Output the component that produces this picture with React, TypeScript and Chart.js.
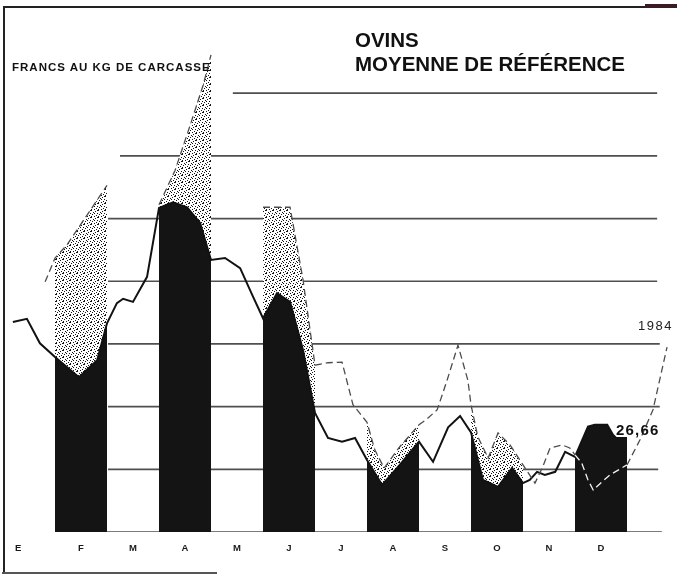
import React, { useEffect, useRef } from "react";
import { Chart, registerables } from "chart.js";

Chart.register(...registerables);

// Months (x axis, 1 unit = 1 month, January starts at 0)
const MONTH_LABELS = ["E", "F", "M", "A", "M", "J", "J", "A", "S", "O", "N", "D"];
const MONTH_TICKS = [0.29, 1.5, 2.5, 3.5, 4.5, 5.5, 6.5, 7.5, 8.5, 9.5, 10.5, 11.5];
const SHADED_MONTHS = [1, 3, 5, 7, 9, 11];

// Solid line (black areas are filled under it in the shaded months)
const SOLID_X = [
  0.19, 0.46, 0.71, 1.0, 1.46, 1.81, 2.0, 2.19, 2.31, 2.5, 2.77, 3.0, 3.27, 3.54, 3.79, 4.0,
  4.27, 4.56, 4.81, 5.0, 5.27, 5.52, 5.77, 6.0, 6.25, 6.52, 6.77, 7.0, 7.29, 7.63, 8.0, 8.27,
  8.56, 8.79, 9.0, 9.23, 9.52, 9.79, 10.0, 10.13, 10.27, 10.42, 10.62, 10.81, 11.0, 11.25,
  11.38, 11.62, 11.73, 11.79, 12.0,
];
const SOLID_Y = [
  28.35, 28.4, 28.01, 27.79, 27.47, 27.74, 28.33, 28.65, 28.72, 28.67, 29.07, 30.17, 30.26,
  30.18, 29.93, 29.34, 29.37, 29.21, 28.75, 28.41, 28.81, 28.67, 27.9, 26.9, 26.5, 26.44, 26.5,
  26.15, 25.75, 26.07, 26.44, 26.12, 26.67, 26.85, 26.59, 25.83, 25.72, 26.02, 25.78, 25.83,
  25.96, 25.91, 25.96, 26.28, 26.2, 26.68, 26.71, 26.71, 26.55, 26.5, 26.5,
];

// Dashed line, 1984 (null = not drawn in the original)
const DASHED_X = [
  0.81, 1.0, 1.23, 1.62, 2.0, 2.5, 3.0, 3.31, 3.6, 3.85, 4.0, 4.5, 5.0, 5.52, 5.77, 6.0, 6.25,
  6.52, 6.73, 7.0, 7.15, 7.33, 7.63, 8.0, 8.15, 8.35, 8.54, 8.75, 8.94, 9.0, 9.13, 9.33, 9.52,
  9.75, 10.0, 10.23, 10.38, 10.52, 10.75, 10.9, 11.0, 11.13, 11.25, 11.35, 11.52, 11.67, 12.0,
  12.25, 12.5, 12.77,
];
const DASHED_Y: (number | null)[] = [
  28.99, 29.37, 29.58, 30.06, 30.53, null, 30.22, 30.77, 31.49, 32.13, 32.61, null, 30.18, 30.18,
  29.02, 27.66, 27.7, 27.71, 27.03, 26.75, 26.31, 26.02, 26.36, 26.71, 26.8, 26.95, 27.42, 27.98,
  27.42, 27.03, 26.52, 26.18, 26.58, 26.39, 26.07, 25.78, 26.04, 26.34, 26.39, 26.34, 26.23,
  26.1, 25.83, 25.67, 25.8, 25.91, 26.07, 26.47, 26.95, 27.95,
];

// Horizontal rules
const GRID_VALUES = [25, 26, 27, 28, 29, 30, 31, 32];
const GRID_FROM = [1.0, 2.02, 2.02, 2.02, 2.02, 2.02, 2.25, 4.42];
const GRID_TO = [12.67, 12.6, 12.63, 12.63, 12.58, 12.58, 12.58, 12.58];

const X_MIN = 0;
const X_MAX = 12.8;
const Y_MIN = 25;
const Y_MAX = 32.8;

const SPECKS: [number, number][] = [
  [0, 0], [4, 1], [2, 2], [6, 3], [1, 4], [5, 5], [3, 6], [6, 0], [3, 3], [0, 6],
];

function solidAt(x: number): number | null {
  for (let i = 0; i < SOLID_X.length - 1; i++) {
    if (x >= SOLID_X[i] && x <= SOLID_X[i + 1]) {
      const t = (x - SOLID_X[i]) / (SOLID_X[i + 1] - SOLID_X[i]);
      return SOLID_Y[i] + t * (SOLID_Y[i + 1] - SOLID_Y[i]);
    }
  }
  return null;
}

export default function App() {
  const ref = useRef<HTMLCanvasElement>(null);

  useEffect(() => {
    const canvas = ref.current;
    if (!canvas) return;
    const tile = document.createElement("canvas");
    tile.width = 7;
    tile.height = 7;
    const tctx = tile.getContext("2d")!;
    tctx.fillStyle = "#ffffff";
    tctx.fillRect(0, 0, 7, 7);
    tctx.fillStyle = "#151515";
    SPECKS.forEach(([a, b]) => tctx.fillRect(a, b, 1, 1));
    const pattern = canvas.getContext("2d")!.createPattern(tile, "repeat")!;

    const solidPts = SOLID_X.map((x, i) => ({ x, y: SOLID_Y[i] }));
    const dashedPts = DASHED_X.map((x, i) => ({ x, y: DASHED_Y[i] }));

    const datasets: any[] = [];

    GRID_VALUES.forEach((v, i) => {
      datasets.push({
        data: [
          { x: GRID_FROM[i], y: v },
          { x: GRID_TO[i], y: v },
        ],
        borderColor: "rgba(35,35,35,0.8)",
        borderWidth: 1.7,
        pointRadius: 0,
        fill: false,
        order: 6,
      });
    });

    SHADED_MONTHS.forEach((m) => {
      datasets.push({
        data: dashedPts.filter((p) => p.x >= m && p.x <= m + 1 && p.y !== null),
        borderWidth: 0,
        borderColor: "rgba(0,0,0,0)",
        backgroundColor: pattern,
        pointRadius: 0,
        fill: "start",
        order: 5,
      });
      datasets.push({
        data: solidPts.filter((p) => p.x >= m && p.x <= m + 1),
        borderWidth: 0,
        borderColor: "rgba(0,0,0,0)",
        backgroundColor: "#141414",
        pointRadius: 0,
        fill: "start",
        order: 4,
      });
    });

    datasets.push({
      label: "Moyenne",
      data: solidPts,
      borderColor: "#121212",
      borderWidth: 2,
      pointRadius: 0,
      fill: false,
      order: 2,
    });

    datasets.push({
      label: "1984",
      data: dashedPts,
      borderWidth: 1.3,
      borderDash: [7, 4],
      pointRadius: 0,
      fill: false,
      spanGaps: false,
      order: 1,
      borderColor: "#4d4d4d",
      segment: {
        borderColor: (ctx: any) => {
          const i0 = ctx.p0DataIndex;
          const i1 = ctx.p1DataIndex;
          const y0 = DASHED_Y[i0];
          const y1 = DASHED_Y[i1];
          if (y0 == null || y1 == null) return "#4d4d4d";
          const xm = (DASHED_X[i0] + DASHED_X[i1]) / 2;
          const ym = (y0 + y1) / 2;
          const inBar = SHADED_MONTHS.includes(Math.floor(xm));
          const s = solidAt(xm);
          return inBar && s !== null && ym < s ? "#f2f2f2" : "#4d4d4d";
        },
      },
    });

    const chart = new Chart(canvas, {
      type: "line",
      data: { datasets },
      options: {
        responsive: false,
        maintainAspectRatio: false,
        animation: false,
        devicePixelRatio: 1,
        layout: { padding: { left: 3, right: 8.4, top: 43, bottom: 8.5 } },
        plugins: { legend: { display: false }, tooltip: { enabled: false } },
        elements: { point: { radius: 0 }, line: { tension: 0 } },
        scales: {
          x: {
            type: "linear",
            min: X_MIN,
            max: X_MAX,
            grid: { display: false, drawTicks: false },
            border: { display: false },
            afterBuildTicks: (scale: any) => {
              scale.ticks = MONTH_TICKS.map((v) => ({ value: v }));
            },
            ticks: {
              autoSkip: false,
              maxRotation: 0,
              minRotation: 0,
              padding: 12,
              color: "#1a1a1a",
              font: { family: "Liberation Sans", size: 9.5, weight: "bold", lineHeight: 1 },
              callback: (_v: any, i: number) => MONTH_LABELS[i],
            },
          },
          y: { min: Y_MIN, max: Y_MAX, display: false },
        },
      } as any,
    });
    return () => chart.destroy();
  }, []);

  const font = "'Liberation Sans', Arial, sans-serif";
  return (
    <div
      style={{
        position: "fixed",
        left: 0,
        top: 0,
        width: 677,
        height: 574,
        background: "#ffffff",
        overflow: "hidden",
      }}
    >
      <canvas
        ref={ref}
        width={677}
        height={574}
        style={{ position: "absolute", left: 0, top: 0, width: 677, height: 574 }}
      />
      {/* frame */}
      <div style={{ position: "absolute", left: 3, top: 6, width: 2, height: 567, background: "#222" }} />
      <div style={{ position: "absolute", left: 3, top: 6, width: 643, height: 1.5, background: "#222" }} />
      <div style={{ position: "absolute", left: 645, top: 4, width: 32, height: 3.5, background: "#3a1d22" }} />
      <div style={{ position: "absolute", left: 2, top: 572, width: 215, height: 1.5, background: "#555" }} />
      {/* texts */}
      <div
        style={{
          position: "absolute",
          left: 355,
          top: 29.6,
          fontFamily: font,
          fontWeight: "bold",
          fontSize: 20.5,
          lineHeight: "20.5px",
          color: "#111",
          whiteSpace: "nowrap",
        }}
      >
        OVINS
      </div>
      <div
        style={{
          position: "absolute",
          left: 355,
          top: 53.6,
          fontFamily: font,
          fontWeight: "bold",
          fontSize: 20.5,
          lineHeight: "20.5px",
          color: "#111",
          whiteSpace: "nowrap",
        }}
      >
        MOYENNE DE RÉFÉRENCE
      </div>
      <div
        style={{
          position: "absolute",
          left: 12,
          top: 62.3,
          fontFamily: font,
          fontWeight: "bold",
          fontSize: 11.5,
          lineHeight: "11.5px",
          letterSpacing: 1,
          color: "#111",
          whiteSpace: "nowrap",
        }}
      >
        FRANCS AU KG DE CARCASSE
      </div>
      <div
        style={{
          position: "absolute",
          left: 638,
          top: 318.5,
          fontFamily: font,
          fontSize: 13,
          lineHeight: "13px",
          letterSpacing: 1.5,
          color: "#222",
          whiteSpace: "nowrap",
        }}
      >
        1984
      </div>
      <div
        style={{
          position: "absolute",
          left: 616,
          top: 421.5,
          fontFamily: font,
          fontWeight: "bold",
          fontSize: 15,
          lineHeight: "15px",
          letterSpacing: 1.2,
          color: "#111",
          whiteSpace: "nowrap",
        }}
      >
        26,66
      </div>
    </div>
  );
}
